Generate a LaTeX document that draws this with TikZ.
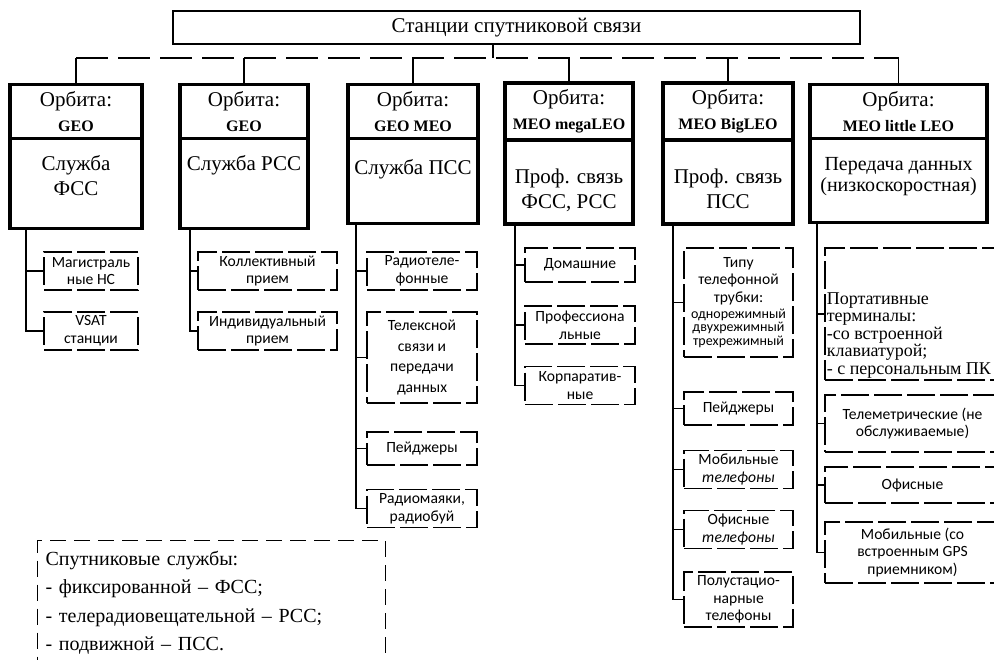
\documentclass[tikz,border=0pt]{standalone}
\usepackage{fontspec}
\setmainfont{Liberation Serif}
\newfontfamily\sansfont{Carlito}
\usetikzlibrary{positioning}

\begin{document}
\begin{tikzpicture}[
    x=0.5pt, y=-0.5pt,
    topbox/.style={rectangle, draw, line width=1pt, minimum width=343.5pt, minimum height=14.5pt, font=\fontsize{10.5}{12.5}\selectfont},
    orbit/.style={rectangle, draw, line width=1.6pt, outer sep=0pt, minimum height=26.5pt, align=center, font=\fontsize{10.5}{12.5}\selectfont},
    service/.style={rectangle, draw, line width=1.6pt, outer sep=0pt},
    servtext/.style={inner sep=0pt, align=center, font=\fontsize{10.5}{12.5}\selectfont},
    item/.style={rectangle, draw, line width=0.6pt, dash pattern=on 14pt off 2.5pt, inner xsep=1pt, inner ysep=0.5pt, align=center, font=\sansfont\fontsize{7.8}{8.8}\selectfont},
    porttext/.style={inner sep=0pt, align=left, font=\fontsize{9}{8.7}\selectfont},
    link/.style={line width=0.6pt},
    bus/.style={line width=0.6pt, dash pattern=on 16pt off 5pt},
    note/.style={rectangle, draw, line width=0.6pt, dash pattern=on 8pt off 4pt, anchor=north west, minimum width=174pt, minimum height=62pt, text width=166pt, inner xsep=4pt, align=left, font=\fontsize{10}{14.2}\selectfont}
]
\useasboundingbox (0,0) rectangle (994,659);

\node[topbox] (top) at (516.5,27.5) {Станции спутниковой связи};

% orbit headers
\node[orbit, minimum width=66pt] (orb1) at (76,111.5) {Орбита:\\\textbf{\footnotesize GEO}};
\node[orbit, minimum width=64pt] (orb2) at (244,111.5) {Орбита:\\\textbf{\footnotesize GEO}};
\node[orbit, minimum width=65pt] (orb3) at (413,111.5) {Орбита:\\\textbf{\footnotesize GEO MEO}};
\node[orbit, minimum width=64pt] (orb4) at (569,111.5) {Орбита:\\\textbf{\footnotesize MEO megaLEO}};
\node[orbit, minimum width=65pt] (orb5) at (728,111.5) {Орбита:\\\textbf{\footnotesize MEO BigLEO}};
\node[orbit, minimum width=88.5pt] (orb6) at (898.5,111.5) {Орбита:\\\textbf{\footnotesize MEO little LEO}};

% services
\node[service, below=0pt of orb1, minimum width=66pt, minimum height=45pt] (srv1) {};
\node[service, below=0pt of orb2, minimum width=64pt, minimum height=45pt] (srv2) {};
\node[service, below=0pt of orb3, minimum width=65pt, minimum height=42.5pt] (srv3) {};
\node[service, below=0pt of orb4, minimum width=64pt, minimum height=42pt] (srv4) {};
\node[service, below=0pt of orb5, minimum width=65pt, minimum height=42pt] (srv5) {};
\node[service, below=0pt of orb6, minimum width=88.5pt, minimum height=42pt] (srv6) {};

\node[servtext, below=8.5pt of srv1.north] (lbl1) {Служба\\ФСС};
\node[servtext, below=8.5pt of srv2.north] (lbl2) {Служба РСС};
\node[servtext, below=10.5pt of srv3.north] (lbl3) {Служба ПСС};
\node[servtext, below=14.5pt of srv4.north] (lbl4) {Проф. связь\\ФСС, РСС};
\node[servtext, below=14.5pt of srv5.north] (lbl5) {Проф. связь\\ПСС};
\node[servtext, below=9.5pt of srv6.north, font=\fontsize{10}{10.5}\selectfont] (lbl6) {Передача данных\\(низкоскоростная)};

% terminals
\node[item, minimum width=47pt, minimum height=19pt] (mag) at (91,271) {Магистраль\\ные НС};
\node[item, minimum width=47pt, minimum height=19pt] (vsat) at (91,331) {VSAT\\станции};

\node[item, minimum width=69.5pt, minimum height=19pt] (koll) at (267.5,271) {Коллективный\\прием};
\node[item, minimum width=69.5pt, minimum height=19pt] (ind) at (267.5,331) {Индивидуальный\\прием};

\node[item, minimum width=55pt, minimum height=19pt] (radtel) at (422,271) {Радиотеле-\\фонные};
\node[item, minimum width=55pt, minimum height=45.5pt] (telex) at (422,357.5) {Телексной\\[1.5pt]связи и\\[1.5pt]передачи\\[1.5pt]данных};
\node[item, minimum width=55pt, minimum height=16.5pt] (pagerA) at (422,448.5) {Пейджеры};
\node[item, minimum width=55pt, minimum height=19pt] (beacon) at (422,508.5) {Радиомаяки,\\радиобуй};

\node[item, minimum width=55pt, minimum height=17pt] (home) at (580,265) {Домашние};
\node[item, minimum width=55pt, minimum height=19pt] (prof) at (580,325) {Профессиона\\льные};
\node[item, minimum width=55pt, minimum height=19pt] (corp) at (580,385.5) {Корпаратив-\\ные};

\node[item, minimum width=54.5pt, minimum height=54.5pt] (handset) at (738.5,302.5) {Типу\\телефонной\\трубки:\\[-1pt]{\fontsize{7}{7}\selectfont однорежимный}\\[-2pt]{\fontsize{7}{7}\selectfont двухрежимный}\\[-2pt]{\fontsize{7}{7}\selectfont трехрежимный}};
\node[item, minimum width=54.5pt, minimum height=16.5pt] (pagerB) at (738.5,408.5) {Пейджеры};
\node[item, minimum width=54.5pt, minimum height=19pt] (mobA) at (738.5,469.5) {Мобильные\\\textit{телефоны}};
\node[item, minimum width=54.5pt, minimum height=19pt] (offA) at (738.5,529.5) {Офисные\\\textit{телефоны}};
\node[item, minimum width=54.5pt, minimum height=27.5pt] (semi) at (738.5,599.5) {Полустацио-\\нарные\\телефоны};

\node[item, minimum width=87.5pt, minimum height=66pt] (portable) at (912.5,314) {};
\node[porttext, below right=22.5pt and 1pt of portable.north west] (porttxt) {Портативные\\терминалы:\\-со встроенной\\клавиатурой;\\- с персональным ПК};
\node[item, minimum width=87.5pt, minimum height=28.5pt] (telem) at (912.5,423.5) {Телеметрические (не\\обслуживаемые)};
\node[item, minimum width=87.5pt, minimum height=18pt] (offB) at (912.5,485) {Офисные};
\node[item, minimum width=87.5pt, minimum height=30.5pt] (mobB) at (912.5,552.5) {Мобильные (со\\встроенным GPS\\приемником)};

\node[note] (legend) at (37,540) {Спутниковые службы:\\- фиксированной – ФСС;\\- телерадиовещательной – РСС;\\- подвижной – ПСС.};

% bus from the top box
\coordinate (bus) at (0,58);
\coordinate (hub) at (493,58);
\draw[link] (top.south -| hub) -- (hub);
\draw[bus] (orb1.north |- bus) -- (orb6.north |- bus);
\draw[link] (orb1.north) -- (orb1.north |- bus);
\draw[link] (orb2.north) -- (orb2.north |- bus);
\draw[link] (orb3.north) -- (orb3.north |- bus);
\draw[link] (orb4.north) -- (orb4.north |- bus);
\draw[link] (orb5.north) -- (orb5.north |- bus);
\draw[link] (orb6.north) -- (orb6.north |- bus);

% trunks under each column
\coordinate (tr1) at (26,0);
\coordinate (tr2) at (190,0);
\coordinate (tr3) at (356,0);
\coordinate (tr4) at (515,0);
\coordinate (tr5) at (673,0);
\coordinate (tr6) at (817,0);

\draw[link] (srv1.south -| tr1) |- (vsat.west);
\draw[link] (mag.west) -- (mag.west -| tr1);
\draw[link] (srv2.south -| tr2) |- (ind.west);
\draw[link] (koll.west) -- (koll.west -| tr2);
\draw[link] (srv3.south -| tr3) |- (beacon.west);
\draw[link] (radtel.west) -- (radtel.west -| tr3);
\draw[link] (telex.west) -- (telex.west -| tr3);
\draw[link] (pagerA.west) -- (pagerA.west -| tr3);
\draw[link] (srv4.south -| tr4) |- (corp.west);
\draw[link] (home.west) -- (home.west -| tr4);
\draw[link] (prof.west) -- (prof.west -| tr4);
\draw[link] (srv5.south -| tr5) |- (semi.west);
\draw[link] (handset.west) -- (handset.west -| tr5);
\draw[link] (pagerB.west) -- (pagerB.west -| tr5);
\draw[link] (mobA.west) -- (mobA.west -| tr5);
\draw[link] (offA.west) -- (offA.west -| tr5);
\draw[link] (srv6.south -| tr6) |- (mobB.west);
\draw[link] (portable.west) -- (portable.west -| tr6);
\draw[link] (telem.west) -- (telem.west -| tr6);
\draw[link] (offB.west) -- (offB.west -| tr6);

\end{tikzpicture}
\end{document}
